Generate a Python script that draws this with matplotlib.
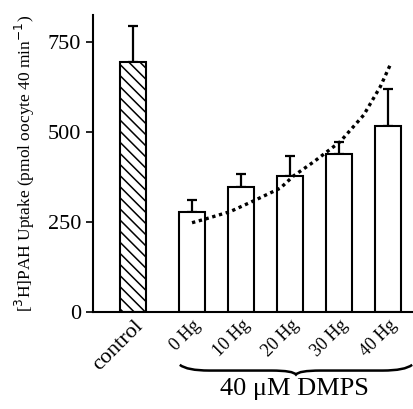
import numpy as np
import matplotlib.pyplot as plt
from matplotlib.path import Path
from matplotlib.patches import PathPatch
import matplotlib.transforms as mtransforms

plt.rcParams['font.family'] = ['Liberation Serif', 'DejaVu Serif']
plt.rcParams['hatch.linewidth'] = 1.1

# Data
labels = ['control', '0 Hg', '10 Hg', '20 Hg', '30 Hg', '40 Hg']
positions = [0, 1.2, 2.2, 3.2, 4.2, 5.2]
means = [695, 278, 348, 378, 439, 517]
errors = [100, 33, 35, 55, 32, 102]

# dotted trend line
trend_x = [1.2, 1.44, 1.98, 2.46, 3.0, 3.27, 3.68, 4.22, 4.7, 5.04, 5.24]
trend_y = [248, 257, 279, 309, 344, 378, 417, 473, 547, 626, 686]

fig = plt.figure(figsize=(4.14, 4.09), dpi=100)
ax = fig.add_axes([0.2246, 0.2372, 0.771, 0.726])

w = 0.53
ax.bar(positions[0], means[0], w, color='white', edgecolor='black',
       linewidth=1.5, hatch='\\\\\\', zorder=2)
ax.bar(positions[1:], means[1:], w, color='white', edgecolor='black',
       linewidth=1.5, zorder=2)
ax.errorbar(positions, means, yerr=[np.zeros(len(means)), errors], fmt='none',
            ecolor='black', elinewidth=1.6, capsize=3.3, capthick=1.6, zorder=1)

ax.plot(trend_x, trend_y, linestyle=(0, (1, 1.1)), color='black', lw=2.4, zorder=3)

ax.set_xlim(-0.82, 5.69)
ax.set_ylim(0, 825)
ax.set_yticks([0, 250, 500, 750])
ax.tick_params(axis='y', labelsize=16, length=5, width=1.2, direction='out')
ax.tick_params(axis='x', length=0)
ax.set_xticks(positions)
ax.set_xticklabels(labels, rotation=45, ha='right', va='top', rotation_mode='anchor')
for i, t in enumerate(ax.get_xticklabels()):
    t.set_fontsize(16 if i == 0 else 13)
ax.spines['top'].set_visible(False)
ax.spines['right'].set_visible(False)
ax.spines['left'].set_linewidth(1.5)
ax.spines['bottom'].set_linewidth(1.5)

ax.set_ylabel('[$^{3}$H]PAH Uptake (pmol oocyte 40 min$^{-1}$)', fontsize=12.5, labelpad=8)

# curly brace under the Hg groups
trans = mtransforms.blended_transform_factory(ax.transData, fig.transFigure)
x0, x1 = 0.95, 5.69
xm = (x0 + x1) / 2
yb, yt, yp = 0.094, 0.108, 0.084
verts = [(x0, yt), (x0 + 0.15, yb), (x0 + 0.6, yb), (xm - 0.5, yb),
         (xm - 0.05, yb), (xm, yp),
         (xm + 0.05, yb), (xm + 0.5, yb), (x1 - 0.6, yb),
         (x1 - 0.15, yb), (x1, yt)]
codes = [Path.MOVETO, Path.CURVE3, Path.CURVE3, Path.LINETO,
         Path.CURVE3, Path.CURVE3, Path.CURVE3, Path.CURVE3, Path.LINETO,
         Path.CURVE3, Path.CURVE3]
fig.add_artist(PathPatch(Path(verts, codes), transform=trans, fill=False,
                         lw=1.8, edgecolor='black', clip_on=False))

fig.text(0.712, 0.048, '40 \u03bcM DMPS', ha='center', va='center', fontsize=19)

fig.savefig('out.png', dpi=100)
